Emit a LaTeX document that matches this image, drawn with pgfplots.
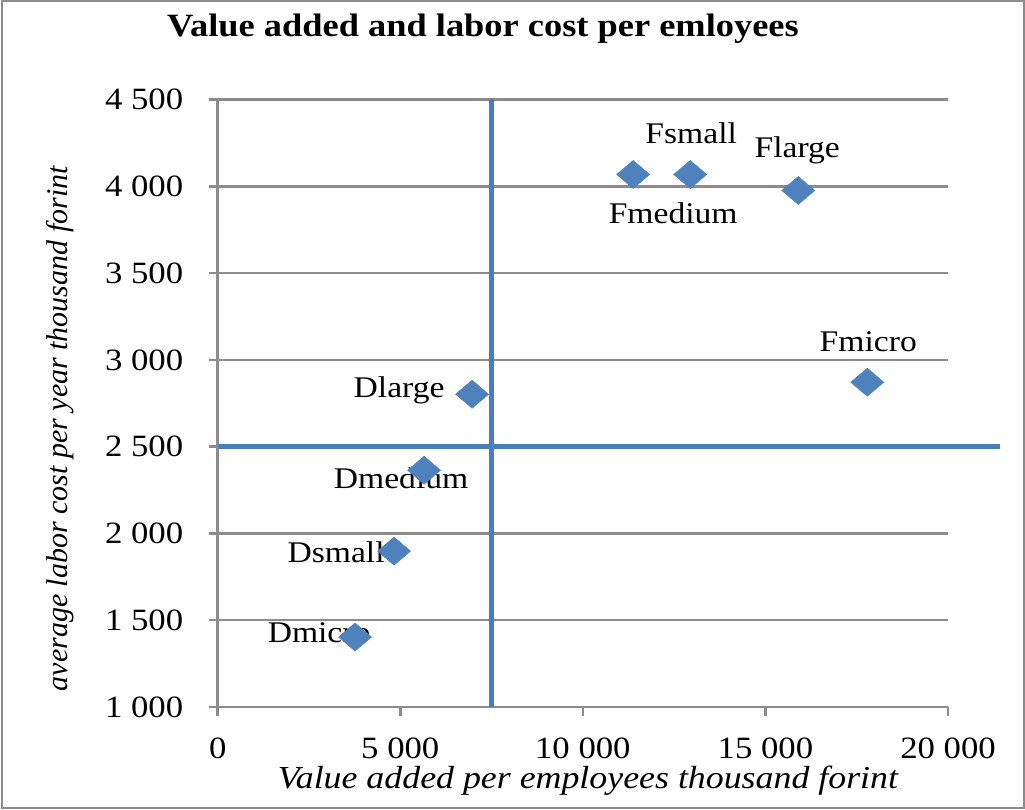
\documentclass[border=0pt]{standalone}
\usepackage{fontspec}
\setmainfont{Liberation Serif}[FakeStretch=1.12]
\newfontfamily\ylabfont{Liberation Serif}
\usepackage{pgfplots}
\usepackage{pgfplotstable}
\pgfplotsset{compat=1.18}
\definecolor{gridgray}{HTML}{8C8C8C}
\definecolor{lineblue}{HTML}{4A7EBB}
\definecolor{markblue}{HTML}{4F81BD}
\pgfplotstableread{
x y
3762 1403
4830 1898
5652 2364
6967 2802
11378 4068
12940 4068
15899 3976
17789 2871
}\pts
\begin{document}
\begin{tikzpicture}
\useasboundingbox (0,0) rectangle (1025pt,809pt);
\begin{axis}[
  at={(217.7pt,102pt)}, anchor=south west,
  scale only axis, width=730.3pt, height=607.5pt,
  xmin=0, xmax=20000, ymin=1000, ymax=4500,
  xtick={0,5000,10000,15000,20000},
  ytick={1000,1500,2000,2500,3000,3500,4000,4500},
  scaled x ticks=false, scaled y ticks=false,
  axis x line=bottom, axis y line=left,
  axis line style={gridgray, line width=2.5pt, -},
  tick style={gridgray, line width=2.5pt},
  tick align=outside, major tick length=9pt,
  ymajorgrids, major grid style={gridgray, line width=2.5pt},
  clip=false,
  /pgf/number format/.cd, fixed, precision=0, 1000 sep={\ }, assume math mode=true,
  /pgfplots/.cd,
  ticklabel style={font=\fontsize{31}{36}\selectfont},
  yticklabel style={xshift=-22pt},
  xticklabel style={yshift=-18pt},
  xlabel={Value added per employees thousand forint},
  ylabel={average labor cost per year thousand forint},
  xlabel style={font=\itshape\fontsize{32}{38}\selectfont, at={(axis description cs:0.507,0)}, anchor=base, yshift=-81pt},
  ylabel style={font=\ylabfont\itshape\fontsize{30}{36}\selectfont, at={(axis description cs:-0.205,0.458)}, anchor=base},
]
\addplot[lineblue, line width=4.5pt] coordinates {(7500,1000) (7500,4500)};
\addplot[lineblue, line width=4.5pt] coordinates {(0,2500) (21430,2500)};
\addplot[only marks, mark=diamond*, mark size=14pt, mark options={xscale=1.57, fill=markblue, draw=markblue, line width=0.5pt}] table[x=x,y=y] {\pts};
\begin{scope}[every node/.style={font=\fontsize{30}{36}\selectfont, inner sep=0pt}]
\node[xshift=-36pt, yshift=4pt] at (axis cs:3762,1403) {Dmicro};
\node[xshift=-58pt, yshift=-1pt] at (axis cs:4830,1898) {Dsmall};
\node[xshift=-23pt, yshift=-8pt] at (axis cs:5652,2364) {Dmedium};
\node[xshift=-73pt, yshift=4pt] at (axis cs:6967,2802) {Dlarge};
\node[xshift=40pt, yshift=-39pt] at (axis cs:11378,4068) {Fmedium};
\node[xshift=1pt, yshift=41pt] at (axis cs:12940,4068) {Fsmall};
\node[xshift=-1pt, yshift=40pt] at (axis cs:15899,3976) {Flarge};
\node[xshift=1pt, yshift=41pt] at (axis cs:17789,2871) {Fmicro};
\end{scope}
\end{axis}
\node[font=\bfseries\fontsize{32.5}{38}\selectfont, anchor=base] at (483pt,772pt) {Value added and labor cost per emloyees};
\draw[gridgray, line width=2pt] (1.5pt,1.5pt) rectangle (1023.5pt,807.5pt);
\end{tikzpicture}
\end{document}
